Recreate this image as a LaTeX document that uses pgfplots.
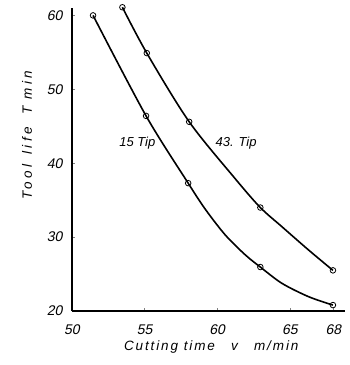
\documentclass[border=0pt]{standalone}
\usepackage{pgfplots}
\pgfplotsset{compat=1.18}
\usepackage{fontspec}
\setmainfont{Liberation Sans}
\newfontfamily\spacedx[LetterSpace=14]{Liberation Sans}
\newfontfamily\spacedy[LetterSpace=26]{Liberation Sans}
\newfontfamily\tickfont[FakeSlant=0.2]{Liberation Sans}
\begin{document}
\begin{tikzpicture}
\begin{axis}[
  scale only axis, width=273pt, height=303pt,
  xmin=50, xmax=68.8, ymin=20, ymax=61,
  axis lines=left, axis line style={-, line width=1.2pt},
  xtick={50,55,60,65,68}, ytick={20,30,40,50,60},
  xticklabels={50,55,60,65,68}, yticklabels={20,30,40,50,60},
  tick align=inside, major tick length=3pt, tick style={line width=0.6pt},
  tick label style={font=\fontsize{14}{16}\tickfont},
  xticklabel style={yshift=-19pt, anchor=center},
  yticklabel style={xshift=-6pt},
  xlabel={\spacedx\itshape Cutting time\hspace{1.2em}v\hspace{1.2em}m/min},
  ylabel={\spacedy\itshape Tool\hspace{0.7em}life\hspace{0.9em}T\hspace{0.5em}min},
  label style={font=\fontsize{13.5}{15}\selectfont},
  xlabel style={at={(axis description cs:0.51,-0.119)}, anchor=center},
  ylabel style={at={(axis description cs:-0.165,0.58)}, anchor=center},
  clip=false,
]
% curves
\addplot[black, line width=1.6pt, smooth, tension=0.5]
coordinates {(51.45,60) (55.1,46.4) (58.0,37.3) (59.17,33.8) (60.55,30.3) (61.93,27.6) (62.97,25.95) (64.46,23.74) (66.3,21.93) (67.97,20.8)};
\addplot[black, line width=1.6pt, smooth, tension=0.5]
coordinates {(53.47,61.1) (55.15,54.9) (58.07,45.6) (61.24,37.9) (62.97,34.0) (64.46,31.4) (66.3,28.24) (67.97,25.5)};
% measured points
\addplot[only marks, mark=o, mark options={fill=white, line width=0.8pt, draw=black}, mark size=2.8pt]
coordinates {(51.45,60) (55.1,46.4) (58.0,37.3) (62.97,25.95) (67.97,20.8)};
\addplot[only marks, mark=o, mark options={fill=white, line width=0.8pt, draw=black}, mark size=2.8pt]
coordinates {(53.47,61.1) (55.15,54.9) (58.07,45.6) (62.97,34.0) (67.97,25.5)};
\node[font=\fontsize{13}{15}\selectfont\itshape] at (axis cs:54.5,42.7) {15 Tip};
\node[font=\fontsize{13}{15}\selectfont\itshape] at (axis cs:61.3,42.7) {43. Tip};
\end{axis}
\path (current axis.origin) ++(-72pt,-54pt) rectangle ++(349pt,365pt);
\end{tikzpicture}
\end{document}
